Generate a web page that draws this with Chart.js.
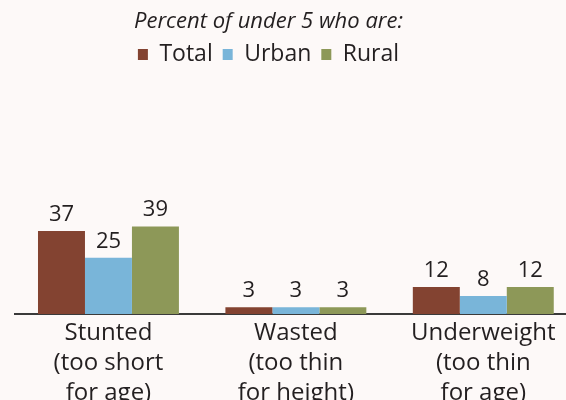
<!DOCTYPE html>
<html>
<head>
<meta charset="utf-8">
<script src="https://cdn.jsdelivr.net/npm/chart.js@4/dist/chart.umd.min.js"></script>
<style>
  html, body { margin: 0; padding: 0; overflow: hidden; background: #fdf9f8; }
  #wrap { position: relative; width: 566px; height: 400px; overflow: hidden; }
  #chart { position: absolute; left: -40px; top: 0; }
</style>
</head>
<body>
<div id="wrap"><canvas id="chart" width="620" height="400"></canvas></div>
<script>
// data
const categories = [
  ['Stunted', '(too short', 'for age)'],
  ['Wasted', '(too thin', 'for height)'],
  ['Underweight', '(too thin', 'for age)']
];
const seriesNames = ['Total', 'Urban', 'Rural'];
const totalValues = [37, 3, 12];
const urbanValues = [25, 3, 8];
const ruralValues = [39, 3, 12];
const seriesColors = ['#834331', '#79b5d9', '#8d9858'];

const textColor = '#231f20';
const fontFamily = '"Open Sans", "Noto Sans", sans-serif';

// numbers over the bars
const valueLabels = {
  id: 'valueLabels',
  afterDatasetsDraw(chart) {
    const ctx = chart.ctx;
    ctx.save();
    ctx.font = '22px ' + fontFamily;
    ctx.fillStyle = textColor;
    ctx.textAlign = 'center';
    ctx.textBaseline = 'alphabetic';
    chart.data.datasets.forEach((ds, i) => {
      chart.getDatasetMeta(i).data.forEach((bar, j) => {
        ctx.fillText(ds.data[j], bar.x, bar.y - 10);
      });
    });
    ctx.restore();
  }
};

const chart = new Chart(document.getElementById('chart'), {
  type: 'bar',
  data: {
    labels: categories,
    datasets: [totalValues, urbanValues, ruralValues].map((values, i) => ({
      label: seriesNames[i],
      data: values,
      backgroundColor: seriesColors[i],
      borderWidth: 0,
      categoryPercentage: 0.752,
      barPercentage: 1.0
    }))
  },
  options: {
    responsive: false,
    animation: false,
    layout: { padding: { left: 0, right: 3, top: 0, bottom: 0 } },
    plugins: {
      tooltip: { enabled: false },
      subtitle: {
        display: true,
        text: 'Percent of under 5 who are:',
        color: textColor,
        font: { family: fontFamily, size: 22, style: 'italic', lineHeight: 1.0 },
        padding: { top: 11, bottom: 0 }
      },
      legend: {
        position: 'top',
        labels: {
          boxWidth: 10,
          boxHeight: 11,
          padding: 10,
          color: textColor,
          font: { family: fontFamily, size: 23 }
        }
      }
    },
    scales: {
      x: {
        grid: { display: false },
        border: { display: true, color: '#3a3a3a', width: 2 },
        ticks: {
          color: textColor,
          padding: -4,
          font: { family: fontFamily, size: 24, lineHeight: 1.25 },
          maxRotation: 0,
          autoSkip: false
        },
        afterFit(scale) { scale.height = 86; }
      },
      y: {
        min: 0,
        max: 106,
        grid: { display: false },
        border: { display: false },
        ticks: { display: false },
        afterFit(scale) { scale.width = 54.75; }
      }
    }
  },
  plugins: [valueLabels]
});
</script>
</body>
</html>
